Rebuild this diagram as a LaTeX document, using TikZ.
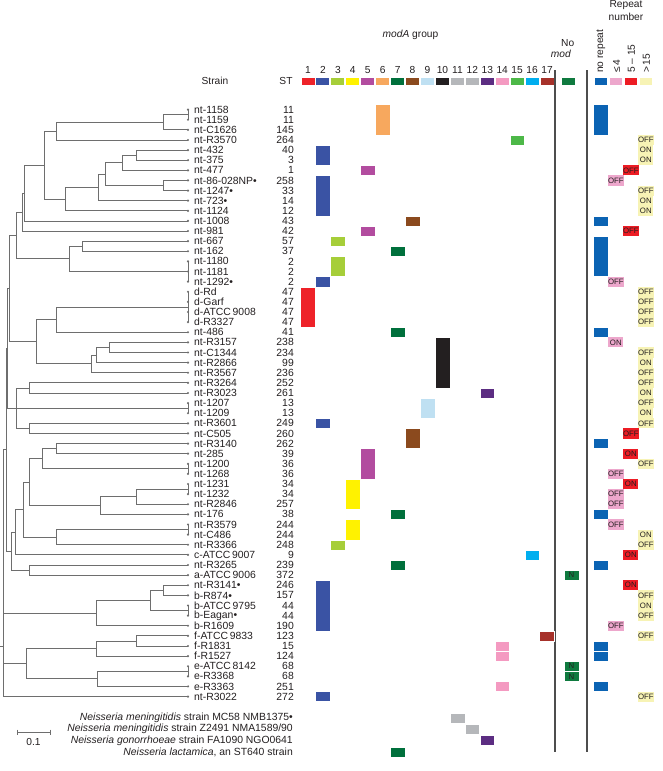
\documentclass[tikz,border=0pt]{standalone}
\usepackage{fontspec}
\setmainfont{Liberation Sans}
\usetikzlibrary{positioning, calc}
\definecolor{textDark}{HTML}{231F20}
\definecolor{treeGray}{HTML}{6E6E6E}
\definecolor{ruleGray}{HTML}{4D4D4D}
\definecolor{mA1}{HTML}{EE2229}
\definecolor{mA2}{HTML}{3A53A4}
\definecolor{mA3}{HTML}{A6CE39}
\definecolor{mA4}{HTML}{FFF200}
\definecolor{mA5}{HTML}{B24C9F}
\definecolor{mA6}{HTML}{F7A85E}
\definecolor{mA7}{HTML}{00703C}
\definecolor{mA8}{HTML}{8B4A1E}
\definecolor{mA9}{HTML}{BFE0F2}
\definecolor{mA10}{HTML}{231F20}
\definecolor{mA11}{HTML}{B5B7BA}
\definecolor{mA12}{HTML}{B5B7BA}
\definecolor{mA13}{HTML}{5C2D82}
\definecolor{mA14}{HTML}{F49AC1}
\definecolor{mA15}{HTML}{4DB848}
\definecolor{mA16}{HTML}{00AEEF}
\definecolor{mA17}{HTML}{A6312A}
\definecolor{rep1}{HTML}{0B63B3}
\definecolor{rep2}{HTML}{EDA7CC}
\definecolor{rep3}{HTML}{ED1C24}
\definecolor{rep4}{HTML}{F7F3B5}
\definecolor{noModGreen}{HTML}{0F7A3F}

\begin{document}
\begin{tikzpicture}[x=1pt, y=-1pt,
    branch/.style={draw=treeGray, line width=0.8pt},
    tip/.style={circle, fill=treeGray, inner sep=0pt, minimum size=2.4pt},
    strain/.style={anchor=west, inner sep=0pt, text=textDark,
      font=\fontsize{10.4}{11}\selectfont},
    stnum/.style={strain, anchor=east},
    hdr/.style={inner sep=0pt, text=textDark, font=\fontsize{10.2}{11}\selectfont},
    rot/.style={hdr, rotate=90, anchor=west},
    cell/.style={minimum width=15pt, minimum height=10.12pt, inner sep=0pt,
      text=textDark, font=\fontsize{7.8}{8}\selectfont},
    rule/.style={draw=ruleGray, line width=1.3pt},
    node distance=2pt
  ]
  \useasboundingbox (0,0) rectangle (662,771);

  % leaves and labels
  \foreach \name/\st [count=\i] in {nt-1158/11, nt-1159/11, nt-C1626/145,
      nt-R3570/264, nt-432/40, nt-375/3, nt-477/1, nt-86-028NP•/258,
      nt-1247•/33, nt-723•/14, nt-1124/12, nt-1008/43, nt-981/42, nt-667/57,
      nt-162/37, nt-1180/2, nt-1181/2, nt-1292•/2, d-Rd/47, d-Garf/47,
      d-ATCC\,9008/47, d-R3327/47, nt-486/41, nt-R3157/238, nt-C1344/234,
      nt-R2866/99, nt-R3567/236, nt-R3264/252, nt-R3023/261, nt-1207/13,
      nt-1209/13, nt-R3601/249, nt-C505/260, nt-R3140/262, nt-285/39,
      nt-1200/36, nt-1268/36, nt-1231/34, nt-1232/34, nt-R2846/257, nt-176/38,
      nt-R3579/244, nt-C486/244, nt-R3366/248, c-ATCC\,9007/9, nt-R3265/239,
      a-ATCC\,9006/372, nt-R3141•/246, b-R874•/157, b-ATCC\,9795/44,
      b-Eagan•/44, b-R1609/190, f-ATCC\,9833/123, f-R1831/15, f-R1527/124,
      e-ATCC\,8142/68, e-R3368/68, e-R3363/251, nt-R3022/272} {
    \coordinate (l\i) at (188,{109.6+(\i-1)*10.12});
    \node[strain] (s\i) at (194,{109.6+(\i-1)*10.12}) {\name};
    \node[stnum] (st\i) at (294,{109.6+(\i-1)*10.12}) {\st};
  }

  % identical strains
  \foreach \a/\b in {1/2, 16/18, 19/22, 30/31, 36/37, 38/39, 42/43, 50/51, 56/57}
    \draw[branch] (l\a) -- (l\b);
  \coordinate (c12) at ($(l1)!.5!(l2)$);
  \coordinate (c1618) at (l17);
  \coordinate (c1922) at ($(l19)!.5!(l22)$);
  \coordinate (c3031) at ($(l30)!.5!(l31)$);
  \coordinate (c3637) at ($(l36)!.5!(l37)$);
  \coordinate (c3839) at ($(l38)!.5!(l39)$);
  \coordinate (c4243) at ($(l42)!.5!(l43)$);
  \coordinate (c5051) at ($(l50)!.5!(l51)$);
  \coordinate (c5657) at ($(l56)!.5!(l57)$);

  % inner nodes of the tree
  \coordinate (nA) at (163,122.25);
  \coordinate (nB) at (56,131.1);
  \coordinate (nC) at (136,155.14);
  \coordinate (nD) at (122.7,162.73);
  \coordinate (nE) at (163,185.5);
  \coordinate (nF) at (105,174.12);
  \coordinate (nG) at (98.7,187.4);
  \coordinate (nH) at (65.3,199.1);
  \coordinate (nI) at (44.3,165.1);
  \coordinate (nJ) at (24.3,193.01);
  \coordinate (nK) at (22.7,212.03);
  \coordinate (nL) at (82.7,246.22);
  \coordinate (nM) at (69.3,258.87);
  \coordinate (nN) at (16.7,235.45);
  \coordinate (nO) at (56,319.59);
  \coordinate (nP) at (109.3,347.42);
  \coordinate (nQ) at (96.7,355.01);
  \coordinate (nR) at (91.7,363.87);
  \coordinate (nS) at (36,341.73);
  \coordinate (nT) at (9.5,288.59);
  \coordinate (nV) at (29.3,387.9);
  \coordinate (nW) at (29.3,428.38);
  \coordinate (nX) at (16,408.14);
  \coordinate (nP1) at (7.7,348.37);
  \coordinate (nY1) at (56,448.62);
  \coordinate (nY2) at (42.7,458.74);
  \coordinate (nZ1) at (136,496.69);
  \coordinate (nZ2) at (100,505.55);
  \coordinate (nY3) at (29.3,482.15);
  \coordinate (nY4) at (56,537.17);
  \coordinate (nY5) at (23.3,509.66);
  \coordinate (nY6) at (15,532.27);
  \coordinate (nY7) at (29.3,570.06);
  \coordinate (nY8) at (11.7,551.17);
  \coordinate (nP2) at (6.3,449.77);
  \coordinate (nB1) at (163,590.3);
  \coordinate (nB2) at (150,600.42);
  \coordinate (nB3) at (96.7,613.07);
  \coordinate (nC1) at (136,640.9);
  \coordinate (nC2) at (96.7,648.49);
  \coordinate (nD1) at (97,678.85);
  \coordinate (nC3) at (26.7,663.67);
  \coordinate (root) at (3.3,646.7);
  \coordinate (stub) at (0,646.7);

  \foreach \p/\c in {nA/c12, nA/l3, nB/nA, nB/l4, nC/l5, nC/l6, nD/nC, nD/l7,
      nE/l8, nE/l9, nF/nD, nF/nE, nG/nF, nG/l10, nH/nG, nH/l11, nI/nB, nI/nH,
      nJ/nI, nJ/l12, nK/nJ, nK/l13, nL/l14, nL/l15, nM/nL, nM/c1618,
      nN/nK, nN/nM, nO/c1922, nO/l23, nP/l24, nP/l25, nQ/nP, nQ/l26,
      nR/nQ, nR/l27, nS/nO, nS/nR, nT/nN, nT/nS, nV/l28, nV/l29,
      nW/l32, nW/l33, nX/nV, nX/c3031, nX/nW, nP1/nT, nP1/nX,
      nY1/l34, nY1/l35, nY2/nY1, nY2/c3637, nZ1/c3839, nZ1/l40,
      nZ2/nZ1, nZ2/l41, nY3/nY2, nY3/nZ2, nY4/c4243, nY4/l44,
      nY5/nY3, nY5/nY4, nY6/nY5, nY6/l45, nY7/l46, nY7/l47,
      nY8/nY6, nY8/nY7, nP2/nP1, nP2/nY8, nB1/l48, nB1/l49,
      nB2/nB1, nB2/c5051, nB3/nB2, nB3/l52, nC1/l53, nC1/l54,
      nC2/nC1, nC2/l55, nD1/c5657, nD1/l58, nC3/nC2, nC3/nD1,
      root/nP2, root/nB3, root/nC3, root/l59}
    \draw[branch] (\p) |- (\c);
  \draw[branch] (stub) -- (root);
  \foreach \i in {1,...,59}
    \node[tip] (t\i) at (l\i) {};

  % scale bar
  \coordinate (sbL) at (17,732);
  \coordinate (sbR) at (50,732);
  \draw[branch] (sbL) -- (sbR);
  \draw[branch] ($(sbL)+(0,-2.5)$) -- ($(sbL)+(0,2.5)$);
  \draw[branch] ($(sbR)+(0,-2.5)$) -- ($(sbR)+(0,2.5)$);
  \node[hdr] (sbLbl) at (33.5,742) {0.1};

  % headers
  \node[hdr] (hStrain) at (215,81) {Strain};
  \node[hdr] (hST) at (286,81) {ST};
  \node[hdr] (hModA) at (410.5,35) {\textit{modA} group};
  \foreach \k in {1,...,17} {
    \node[hdr] (h\k) at ({308+(\k-1)*14.94},70) {\k};
    \fill[mA\k] ({308+(\k-1)*14.94-6.5},78) rectangle ++(13,7);
  }
  \node[hdr, anchor=west] (hNo) at (561,43) {No};
  \node[hdr, anchor=north west, below=3pt of hNo.south west] (hMod) {\textit{mod}};
  \fill[noModGreen] (562,78) rectangle ++(13,7);
  \node[hdr] (hRepeat) at (626,5) {Repeat};
  \node[hdr, below=3pt of hRepeat] (hNumber) {number};
  \node[rot] (hNoRep) at (600.8,73) {no repeat};
  \node[rot] (hLe4) at (616.5,73) {≤\,4};
  \node[rot] (h515) at (631.3,73) {5 – 15};
  \node[rot] (hGt15) at (646.3,73) {>\,15};
  \foreach \j in {1,...,4}
    \fill[rep\j] ({600.8+(\j-1)*15-6.3},78) rectangle ++(12.6,7);

  % dividing rules
  \draw[rule] (555,70) -- (555,752);
  \draw[rule] (587,70) -- (587,752);

  % modA groups
  \foreach \k/\a/\b in {6/1/3, 15/4/4, 2/5/6, 5/7/7, 2/8/11, 8/12/12, 5/13/13,
      3/14/14, 7/15/15, 3/16/17, 2/18/18, 1/19/22, 7/23/23, 10/24/28,
      13/29/29, 9/30/31, 2/32/32, 8/33/34, 5/35/37, 4/38/40, 7/41/41,
      4/42/43, 3/44/44, 16/45/45, 7/46/46, 2/48/52, 17/53/53, 14/54/54,
      14/55/55, 14/58/58, 2/59/59}
    \filldraw[fill=mA\k, draw=white, line width=0.4pt]
      ({308+(\k-1)*14.94-7.35},{104.54+(\a-1)*10.12})
      rectangle ({308+(\k-1)*14.94+7.35},{104.54+\b*10.12});

  % no mod
  \foreach \r in {47,56,57}
    \node[cell, fill=noModGreen, draw=white, line width=0.4pt] (nm\r)
      at (571.5,{109.6+(\r-1)*10.12}) {N};

  % repeat number
  \foreach \a/\b in {1/3, 12/12, 14/17, 23/23, 34/34, 41/41, 46/46, 54/54,
      55/55, 58/58}
    \filldraw[fill=rep1, draw=white, line width=0.4pt]
      (593.3,{104.54+(\a-1)*10.12}) rectangle (608.3,{104.54+\b*10.12});
  \foreach \r/\j/\s in {4/4/OFF, 5/4/ON, 6/4/ON, 7/3/OFF, 8/2/OFF, 9/4/OFF,
      10/4/ON, 11/4/ON, 13/3/OFF, 18/2/OFF, 19/4/OFF, 20/4/OFF, 21/4/OFF,
      22/4/OFF, 24/2/ON, 25/4/OFF, 26/4/ON, 27/4/OFF, 28/4/OFF, 29/4/ON,
      30/4/OFF, 31/4/ON, 32/4/OFF, 33/3/OFF, 35/3/ON, 36/4/OFF, 37/2/OFF,
      38/3/ON, 39/2/OFF, 40/2/OFF, 42/2/OFF, 43/4/ON, 44/4/OFF, 45/3/ON,
      48/3/ON, 49/4/OFF, 50/4/ON, 51/4/OFF, 52/2/OFF, 53/4/OFF, 59/4/OFF}
    \node[cell, fill=rep\j] (rp\r) at ({600.8+(\j-1)*15},{109.6+(\r-1)*10.12}) {\s};

  % Neisseria strains
  \node[stnum] (ne1) at (293,718) {\textit{Neisseria meningitidis} strain MC58 NMB1375•};
  \node[stnum] (ne2) at (293,729.3) {\textit{Neisseria meningitidis} strain Z2491 NMA1589/90};
  \node[stnum] (ne3) at (293,740.6) {\textit{Neisseria gonorrhoeae} strain FA1090 NGO0641};
  \node[stnum] (ne4) at (293,751.9) {\textit{Neisseria lactamica}, an ST640 strain};
  \foreach \k/\y in {11/718, 12/729.3, 13/740.6, 7/751.9}
    \filldraw[fill=mA\k, draw=white, line width=0.4pt]
      ({308+(\k-1)*14.94-7.35},{\y-5.06}) rectangle ({308+(\k-1)*14.94+7.35},{\y+5.06});
\end{tikzpicture}
\end{document}
